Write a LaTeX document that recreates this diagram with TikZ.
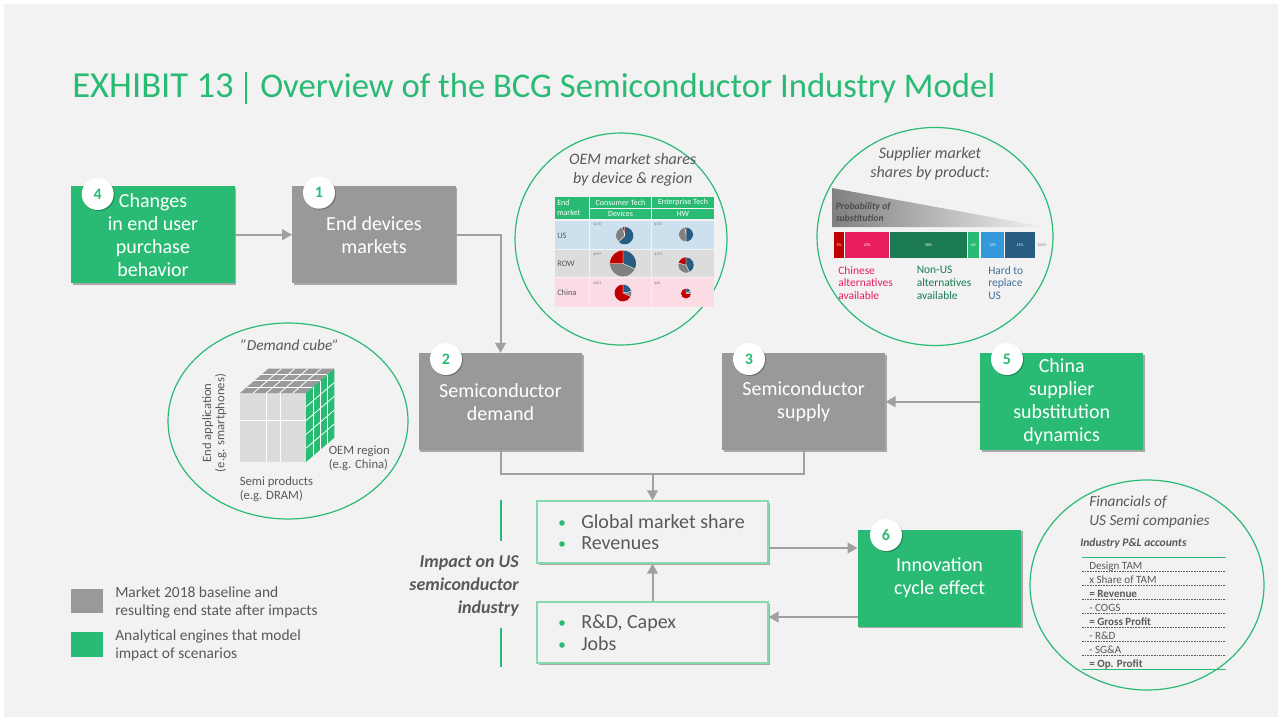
\documentclass[tikz,border=0pt]{standalone}
\usepackage{fontspec}
\setmainfont{Carlito}
\usetikzlibrary{shadows,arrows.meta,calc}
\definecolor{bcggreen}{HTML}{29BA74}
\definecolor{boxgray}{HTML}{999999}
\definecolor{bg}{HTML}{F2F2F2}
\definecolor{txt}{HTML}{595959}
\definecolor{arrgray}{HTML}{A0A0A0}
\definecolor{lightgreen}{HTML}{8AD8AE}
\definecolor{pieblue}{HTML}{285C80}
\definecolor{piegray}{HTML}{808080}
\definecolor{piered}{HTML}{C00000}
\definecolor{rowblue}{HTML}{CCE0EE}
\definecolor{rowgray}{HTML}{DCDCDC}
\definecolor{rowpink}{HTML}{FCDCE4}
\definecolor{segpink}{HTML}{E91E5F}
\definecolor{segdkgreen}{HTML}{1B7A52}
\definecolor{seglblue}{HTML}{3399DB}
\definecolor{segdkblue}{HTML}{285C80}
\definecolor{hardblue}{HTML}{41709A}
\definecolor{cubegray}{HTML}{9A9A9A}
\definecolor{cubefront}{HTML}{DCDCDC}
\newcommand\fs[2]{\fontsize{#1}{#2}\selectfont}
\newcommand\pieslice[6]{\fill[#6,draw=white,line width=0.2pt] (#1,#2) -- ++({-(#4)}:#3) arc[start angle={-(#4)}, end angle={-(#5)}, radius=#3] -- cycle;}
\tikzset{
  shd/.style={drop shadow={shadow xshift=1.2pt,shadow yshift=-1.2pt,opacity=0.3,fill=black}},
  bigbox/.style={minimum width=122.5pt, minimum height=72.75pt, inner sep=0pt, text=white, align=center, font=\fs{15}{17.25}, shd},
  gbox/.style={bigbox, fill=bcggreen},
  ybox/.style={bigbox, fill=boxgray},
  badge/.style={circle, fill=white, minimum size=24pt, inner sep=0pt, text=bcggreen, font=\bfseries\fs{12}{12}, drop shadow={shadow xshift=0.8pt,shadow yshift=-0.8pt,opacity=0.25,fill=black}},
  arr/.style={draw=arrgray, line width=1.5pt, -{Triangle[length=7.5pt,width=8pt]}},
  ln/.style={draw=arrgray, line width=1.5pt},
  impbox/.style={draw=lightgreen, line width=1pt, fill=bg, minimum width=173.25pt, inner sep=0pt, shd},
  circ/.style={draw=bcggreen, line width=0.9pt},
  gtxt/.style={text=txt, inner sep=0pt},
  dot/.style={circle, fill=bcggreen, minimum size=4.2pt, inner sep=0pt},
  tiny/.style={inner sep=0pt, font=\fs{3}{3}},
}
\begin{document}
\begin{tikzpicture}[x=0.75pt,y=-0.75pt]
\fill[white] (0,0) rectangle (1282,721);
\fill[bg] (4,4) rectangle (1278,717);
\useasboundingbox (0,0) rectangle (1282,721);

% Title
\node[anchor=base west, text=bcggreen, font=\fs{27.5}{30}, inner sep=0pt] (t1) at (72,97.7) {EXHIBIT 13};
\draw[bcggreen, line width=1.1pt] (246,72) -- (246,104);
\node[anchor=base west, text=bcggreen, font=\fs{26}{30}, inner sep=0pt] (t2) at (260,97.7) {Overview of the BCG Semiconductor Industry Model};

% Circles
\draw[circ] (621,239) circle[radius=106];
\draw[circ] (935,236.5) ellipse[x radius=118, y radius=109];
\draw[circ] (288,421) ellipse[x radius=120, y radius=98];
\draw[circ] (1147,585) ellipse[x radius=117, y radius=105];

% Main boxes
\node[gbox] (b4) at (153,234.7) {Changes\\in end user\\purchase\\behavior};
\node[ybox] (b1) at (374,234.7) {End devices\\markets};
\node[ybox] (b2) at (500.5,401.7) {Semiconductor\\demand};
\node[ybox] (b3) at (803.7,401.7) {Semiconductor\\supply};
\node[gbox] (b5) at (1061.7,401.7) {China\\supplier\\substitution\\dynamics};
\node[gbox] (b6) at (939.5,578) {Innovation\\cycle effect};

\node[badge] (n4) at (97.7,194) {4};
\node[badge] (n1) at (319,192.7) {1};
\node[badge] (n2) at (446,359) {2};
\node[badge] (n3) at (749,359) {3};
\node[badge] (n5) at (1007,359) {5};
\node[badge] (n6) at (886,535) {6};

% Impact boxes
\node[impbox, minimum height=46.5pt] (gms) at (652.5,532) {};
\node[impbox, minimum height=45.75pt] (rd) at (652.5,632.5) {};
\node[dot] (d1) at (562,523) {};
\node[dot] (d2) at (562,544) {};
\node[dot] (d3) at (562,623) {};
\node[dot] (d4) at (562,645) {};
\node[gtxt, anchor=base west, font=\fs{15}{15}] (g1) at (581,528.5) {Global market share};
\node[gtxt, anchor=base west, font=\fs{15}{15}] (g2) at (581,549.5) {Revenues};
\node[gtxt, anchor=base west, font=\fs{15}{15}] (g3) at (581,628.5) {R\&D, Capex};
\node[gtxt, anchor=base west, font=\fs{15}{15}] (g4) at (581,650.5) {Jobs};

\node[gtxt, anchor=east, align=right, font=\bfseries\itshape\fs{13.5}{17.25}] (imp) at (519,586) {Impact on US\\semiconductor\\industry};
\draw[bcggreen, line width=1.5pt] (500.5,500) -- (500.5,541);
\draw[bcggreen, line width=1.5pt] (500.5,628) -- (500.5,667);

% Connectors
\draw[arr] (b4.east) -- (b1.west);
\draw[arr] (b1.east) -| (b2.north);
\draw[arr] (b5.west) -- (b3.east);
\coordinate (j) at (652.5,474);
\draw[ln] (b2.south) |- (j) -| (b3.south);
\draw[arr] (j) -- (gms.north);
\draw[arr] (rd.north) -- (gms.south);
\path (gms.east) ++(0,16) coordinate (ge);
\draw[arr] (ge) -- (ge -| b6.west);
\path (b6.west) ++(0,39) coordinate (be);
\draw[arr] (be) -- (be -| rd.east);

% OEM circle content
\node[gtxt, align=center, font=\itshape\fs{12}{14}] (oemt) at (632.7,169.5) {OEM market shares\\by device \& region};
\fill[bcggreen] (555,197) rectangle (589,219);
\fill[bcggreen] (590,197) rectangle (651,208);
\fill[bcggreen] (590,209) rectangle (651,219);
\fill[bcggreen] (652,197) rectangle (714,208);
\fill[bcggreen] (652,209) rectangle (714,219);
\fill[rowblue] (555,221) rectangle (589,249);
\fill[rowblue] (590,221) rectangle (651,249);
\fill[rowblue] (652,221) rectangle (714,249);
\fill[rowgray] (555,250) rectangle (589,277);
\fill[rowgray] (590,250) rectangle (651,277);
\fill[rowgray] (652,250) rectangle (714,277);
\fill[rowpink] (555,278) rectangle (589,307);
\fill[rowpink] (590,278) rectangle (651,307);
\fill[rowpink] (652,278) rectangle (714,307);
\node[anchor=west, align=left, text=white, inner sep=0pt, font=\fs{6}{7.5}] (em) at (557,208) {End\\market};
\node[text=white, inner sep=0pt, font=\fs{6}{6}] (ct) at (620.5,202.5) {Consumer Tech};
\node[text=white, inner sep=0pt, font=\fs{6}{6}] (dv) at (620.5,214) {Devices};
\node[text=white, inner sep=0pt, font=\fs{6}{6}] (et) at (683,202.5) {Enterprise Tech};
\node[text=white, inner sep=0pt, font=\fs{6}{6}] (hw) at (683,214) {HW};
\node[gtxt, anchor=west, font=\fs{6.3}{6.3}] (rus) at (557,236) {US};
\node[gtxt, anchor=west, font=\fs{6.3}{6.3}] (rrow) at (557,264) {ROW};
\node[gtxt, anchor=west, font=\fs{6.3}{6.3}] (rcn) at (557,293) {China};
\node[tiny, anchor=west, text=piegray] (v1) at (593,224.5) {\$210};
\node[tiny, anchor=west, text=piegray] (v2) at (654,224.5) {\$155};
\node[tiny, anchor=west, text=piegray] (v3) at (593,254) {\$497};
\node[tiny, anchor=west, text=piegray] (v4) at (654,254) {\$191};
\node[tiny, anchor=west, text=piegray] (v5) at (593,283) {\$201};
\node[tiny, anchor=west, text=piegray] (v6) at (654,283) {\$66};
% pies (visual angles, ccw from east)
\pieslice{624.7}{235.7}{9}{-135}{90}{pieblue}
\pieslice{624.7}{235.7}{9}{104}{225}{piegray}
\pieslice{624.7}{235.7}{9}{90}{104}{piered}
\pieslice{686}{234.5}{7.3}{-90}{90}{pieblue}
\pieslice{686}{234.5}{7.3}{100}{270}{piegray}
\pieslice{686}{234.5}{7.3}{90}{100}{piered}
\pieslice{623}{263.5}{13.3}{-25}{90}{pieblue}
\pieslice{623}{263.5}{13.3}{180}{335}{piegray}
\pieslice{623}{263.5}{13.3}{90}{180}{piered}
\pieslice{686}{265}{8}{-65}{90}{pieblue}
\pieslice{686}{265}{8}{165}{295}{piegray}
\pieslice{686}{265}{8}{90}{165}{piered}
\pieslice{623}{293}{8.7}{10}{90}{pieblue}
\pieslice{623}{293}{8.7}{-25}{10}{piegray}
\pieslice{623}{293}{8.7}{90}{335}{piered}
\pieslice{686}{293.5}{5.3}{30}{90}{pieblue}
\pieslice{686}{293.5}{5.3}{0}{30}{piegray}
\pieslice{686}{293.5}{5.3}{90}{360}{piered}

% Supplier circle content
\node[gtxt, align=center, font=\itshape\fs{12}{14.5}] (supt) at (930,164) {Supplier market\\shares by product:};
\shade[left color=piegray, right color=bg] (832,188) -- (1045,227) -- (832,227) -- cycle;
\node[anchor=base west, align=left, inner sep=0pt, text=txt!85!black, font=\bfseries\itshape\fs{7.3}{9.5}] (prob) at (835.5,209) {Probability of};
\node[anchor=base west, align=left, inner sep=0pt, text=txt!85!black, font=\bfseries\itshape\fs{7.3}{9.5}] (prob2) at (835.5,221.5) {substitution};
\fill[piered] (834,232) rectangle (844,258);
\fill[segpink] (845,232) rectangle (889,258);
\fill[segdkgreen] (890,232) rectangle (967,258);
\fill[bcggreen] (968,232) rectangle (979,258);
\fill[seglblue] (981,232) rectangle (1004,258);
\fill[segdkblue] (1005,232) rectangle (1035,258);
\node[tiny, text=white] (s1) at (839,245) {5\%};
\node[tiny, text=white] (s2) at (867,245) {23\%};
\node[tiny, text=white] (s3) at (928.5,245) {38\%};
\node[tiny, text=white] (s4) at (973.5,245) {6\%};
\node[tiny, text=white] (s5) at (992.5,245) {12\%};
\node[tiny, text=white] (s6) at (1020,245) {15\%};
\node[tiny, anchor=west, text=piegray] (s7) at (1037,245) {100\%};
\node[anchor=north west, align=left, inner sep=0pt, text=segpink, font=\fs{8.6}{9.5}] (lc) at (838,266) {Chinese\\alternatives\\available};
\node[anchor=north west, align=left, inner sep=0pt, text=segdkgreen, font=\fs{8.6}{9.5}] (ln) at (916.5,266) {Non-US\\alternatives\\available};
\node[anchor=north west, align=left, inner sep=0pt, text=hardblue, font=\fs{8.6}{9.5}] (lh) at (988,266) {Hard to\\replace\\US};

% Demand cube
\node[gtxt, font=\itshape\fs{11.5}{11.5}] (dct) at (289.7,345) {"Demand cube"};
\fill[cubefront] (240,393) rectangle (306,462);
\draw[white, line width=0.6pt] (266.3,393) -- (266.3,462) (280.3,393) -- (280.3,462) (240,420) -- (306,420);
\fill[cubegray] (240,393) -- (306,393) -- (334.3,368.7) -- (268.3,368.7) -- cycle;
\foreach \i in {1,...,4} \draw[white, line width=0.6pt] ({240+66*\i/5},393) -- ({268.3+66*\i/5},368.7);
\foreach \j in {1,...,3} \draw[white, line width=0.6pt] ({240+28.3*\j/4},{393-24.3*\j/4}) -- ({306+28.3*\j/4},{393-24.3*\j/4});
\fill[bcggreen] (306,393) -- (334.3,368.7) -- (334.3,437.7) -- (306,462) -- cycle;
\foreach \i in {1,...,3} \draw[white, line width=0.6pt] ({306+28.3*\i/4},{393-24.3*\i/4}) -- ({306+28.3*\i/4},{462-24.3*\i/4});
\foreach \j in {1,...,4} \draw[white, line width=0.6pt] (306,{393+69*\j/5}) -- (334.3,{368.7+69*\j/5});
\node[gtxt, rotate=90, align=center, font=\fs{9.5}{10}] (ea) at (214.5,423) {End application\\(e.g. smartphones)};
\node[gtxt, anchor=west, align=left, font=\fs{9.5}{10.5}] (oemr) at (328.5,458.5) {OEM region\\(e.g. China)};
\node[gtxt, anchor=west, align=left, font=\fs{9.5}{10.5}] (semp) at (239.5,489.5) {Semi products\\(e.g. DRAM)};

% Financials
\node[gtxt, anchor=west, align=left, font=\itshape\fs{11.5}{14.3}] (fin) at (1089,512) {Financials of\\US Semi companies};
\node[gtxt, anchor=west, font=\bfseries\itshape\fs{8.7}{8.7}] (ipl) at (1080,543.5) {Industry P\&L accounts};
\draw[bcggreen, line width=1pt] (1082,557.7) -- (1226,557.7);
\draw[bcggreen, line width=1pt] (1082,669.3) -- (1226,669.3);
\foreach \yy in {571.7,585.7,599.7,613.5,627.3,641.3,655.3}
  \draw[txt, dashed, line width=0.4pt, dash pattern=on 1.2pt off 0.8pt] (1082,\yy) -- (1226,\yy);
\node[gtxt, anchor=base west, font=\fs{8.3}{8.3}] (f1) at (1089,569) {Design TAM};
\node[gtxt, anchor=base west, font=\fs{8.3}{8.3}] (f2) at (1089,583) {x Share of TAM};
\node[gtxt, anchor=base west, font=\bfseries\fs{8.3}{8.3}] (f3) at (1089,597) {= Revenue};
\node[gtxt, anchor=base west, font=\fs{8.3}{8.3}] (f4) at (1089,611) {- COGS};
\node[gtxt, anchor=base west, font=\bfseries\fs{8.3}{8.3}] (f5) at (1089,625) {= Gross Profit};
\node[gtxt, anchor=base west, font=\fs{8.3}{8.3}] (f6) at (1089,639) {- R\&D};
\node[gtxt, anchor=base west, font=\fs{8.3}{8.3}] (f7) at (1089,653) {- SG\&A};
\node[gtxt, anchor=base west, font=\bfseries\fs{8.3}{8.3}] (f8) at (1089,667) {= Op. Profit};

% Legend
\fill[boxgray] (71,589) rectangle (102.7,613.3);
\fill[bcggreen] (71,632.3) rectangle (102.7,657.3);
\node[gtxt, anchor=west, align=left, font=\fs{11.6}{13.5}] (lg1) at (115,602) {Market 2018 baseline and\\resulting end state after impacts};
\node[gtxt, anchor=west, align=left, font=\fs{11.6}{13.5}] (lg2) at (115,645.5) {Analytical engines that model\\impact of scenarios};
\end{tikzpicture}
\end{document}
